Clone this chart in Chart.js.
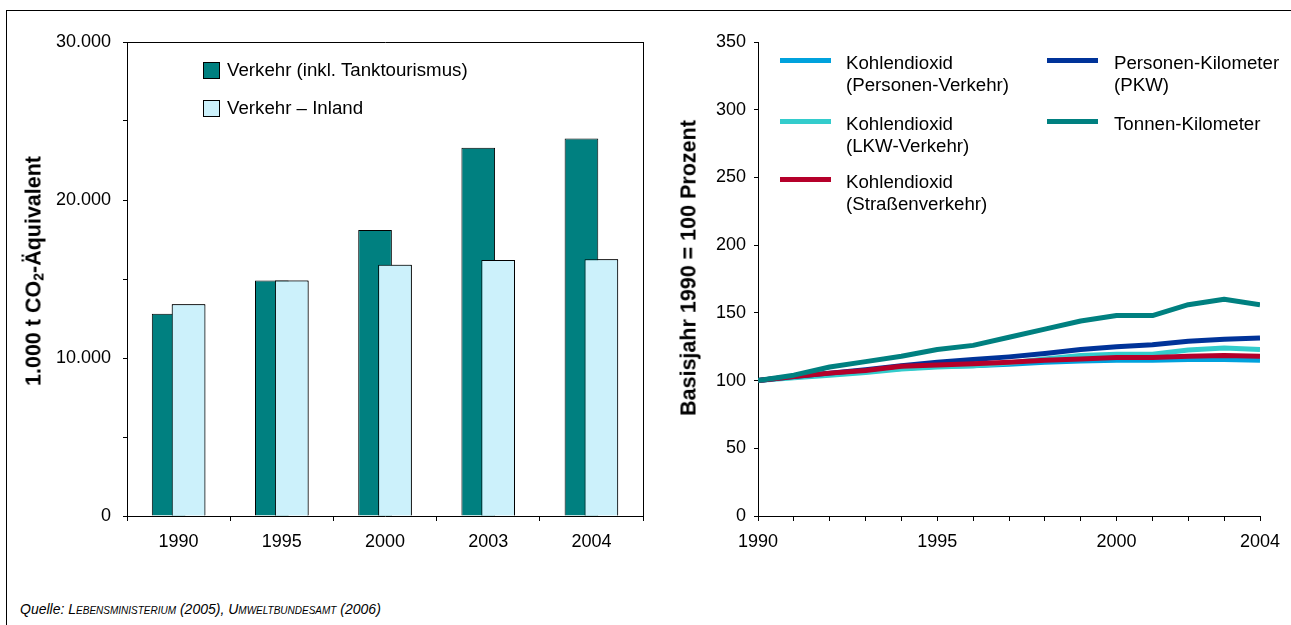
<!DOCTYPE html>
<html><head><meta charset="utf-8">
<script src="https://cdn.jsdelivr.net/npm/chart.js@4"></script>
<style>
html,body{margin:0;padding:0;background:#fff;}
body{width:1291px;height:625px;position:relative;overflow:hidden;font-family:"Liberation Sans",Arial,sans-serif;color:#000;}
#frame{position:absolute;left:6px;top:10px;width:1300px;height:700px;border-left:1px solid #000;border-top:1px solid #000;}
canvas{position:absolute;top:0;}
#c1{left:0;}
#c2{left:660px;}
.rt{position:absolute;white-space:nowrap;font-weight:bold;font-size:21.5px;transform:translate(-50%,-50%) rotate(-90deg);}
.rt sub{font-size:14px;vertical-align:-3px;line-height:0;}
.lsq{position:absolute;width:15px;height:15px;border:1px solid #000;}
.ltx{position:absolute;font-size:18.7px;line-height:22px;white-space:nowrap;}
.lln{position:absolute;width:51px;height:5px;}
#src{position:absolute;left:20px;top:601px;font-size:14px;font-style:italic;white-space:nowrap;}
.sc{font-variant:small-caps;}
</style></head>
<body>
<div id="frame"></div>
<canvas id="c1" width="660" height="580"></canvas>
<canvas id="c2" width="631" height="580"></canvas>
<div class="rt" style="left:34px;top:271px;">1.000 t CO<sub>2</sub>-Äquivalent</div>
<div class="rt" style="left:689px;top:268px;">Basisjahr 1990 = 100 Prozent</div>
<div id="legend1"></div>
<div id="legend2"></div>
<div id="src">Quelle: <span class="sc">Lebensministerium</span> (2005), <span class="sc">Umweltbundesamt</span> (2006)</div>
<script>
// ---- Data: bar chart ----
const barYears = ['1990', '1995', '2000', '2003', '2004'];
const verkehrTank = [12800, 14900, 18100, 23300, 23900];
const verkehrInland = [13400, 14900, 15900, 16200, 16250];
const barSeriesNames = ['Verkehr (inkl. Tanktourismus)', 'Verkehr – Inland'];
const barTickValues = [0, 10000, 20000, 30000];
const barTickLabels = ['0', '10.000', '20.000', '30.000'];

// ---- Data: line chart ----
const lineYears = [1990, 1991, 1992, 1993, 1994, 1995, 1996, 1997, 1998, 1999, 2000, 2001, 2002, 2003, 2004];
const co2Personen = [100, 103, 105, 107, 109, 110.5, 111, 112, 113.5, 114.5, 115, 115, 115.5, 115.5, 115];
const co2Lkw = [100, 102, 104, 106, 108.5, 110, 111, 113, 116, 118.5, 119.5, 119.5, 122.5, 124, 123];
const co2Strasse = [100, 103, 105.5, 107.5, 110.5, 111.5, 112.5, 113.5, 115, 116, 117, 117, 118, 118.5, 118];
const personenKm = [100, 103, 105.5, 108, 111, 113.5, 115.5, 117.5, 120, 123, 125, 126.5, 129, 130.5, 131.5];
const tonnenKm = [100, 104, 110, 114, 118, 123, 126, 132, 138, 144, 148, 148, 156, 160, 156];
const lineSeriesNames = [
  ['Kohlendioxid', '(Personen-Verkehr)'],
  ['Kohlendioxid', '(LKW-Verkehr)'],
  ['Kohlendioxid', '(Straßenverkehr)'],
  ['Personen-Kilometer', '(PKW)'],
  ['Tonnen-Kilometer']
];
const lineXLabelYears = [1990, 1995, 2000, 2004];

const DARK = '#008080', LIGHT = '#ccf1fb';
const lineColors = ['#00a2dd', '#33cccc', '#b5002a', '#003399', '#008080'];

Chart.defaults.font.family = '"Liberation Sans", Arial, sans-serif';
Chart.defaults.font.size = 18;
Chart.defaults.color = '#000';

// Light bars drawn on top of the overlapping dark bars
const overlapPlugin = {
  id: 'overlap',
  afterDatasetsDraw(chart) {
    const meta = chart.getDatasetMeta(1);
    if (meta && meta.controller) meta.controller.draw();
  }
};

new Chart(document.getElementById('c1'), {
  type: 'bar',
  data: {
    labels: barYears,
    datasets: [
      { label: barSeriesNames[0], data: verkehrTank, backgroundColor: DARK, borderColor: '#000', borderWidth: 1,
        categoryPercentage: 0.386, barPercentage: 1.69 },
      { label: barSeriesNames[1], data: verkehrInland, backgroundColor: LIGHT, borderColor: '#000', borderWidth: 1,
        categoryPercentage: 0.386, barPercentage: 1.69 }
    ]
  },
  options: {
    responsive: false, animation: false, devicePixelRatio: 1,
    layout: { padding: { left: 0, right: 17, top: 42, bottom: 24 } },
    plugins: { legend: { display: false }, tooltip: { enabled: false } },
    scales: {
      x: {
        type: 'category', offset: true,
        grid: { display: true, drawOnChartArea: false, drawTicks: true, tickLength: 5, color: '#000', offset: true },
        border: { display: true, color: '#000', width: 1 },
        ticks: { padding: 10, maxRotation: 0, minRotation: 0, font: { size: 18 } },
        afterFit: s => { s.height = 40; }
      },
      xTop: {
        type: 'category', position: 'top', offset: true,
        grid: { display: false, drawTicks: false }, ticks: { display: false },
        border: { display: true, color: '#000', width: 1 },
        afterFit: s => { s.height = 0; }
      },
      y: {
        min: 0, max: 30000,
        grid: { display: true, drawOnChartArea: false, drawTicks: true, tickLength: 4, color: '#000' },
        border: { display: true, color: '#000', width: 1 },
        ticks: {
          stepSize: 5000, padding: 12, autoSkip: false,
          callback: v => { const i = barTickValues.indexOf(v); return i >= 0 ? barTickLabels[i] : ''; }
        },
        afterFit: s => { s.width = 127; }
      },
      yRight: {
        type: 'linear', position: 'right', min: 0, max: 30000,
        grid: { display: false, drawTicks: false }, ticks: { display: false },
        border: { display: true, color: '#000', width: 1 },
        afterFit: s => { s.width = 0; }
      }
    }
  },
  plugins: [overlapPlugin]
});

const lineData = [co2Personen, co2Lkw, co2Strasse, personenKm, tonnenKm];
const drawOrder = [5, 4, 2, 3, 1];
new Chart(document.getElementById('c2'), {
  type: 'line',
  data: {
    datasets: lineData.map((arr, i) => ({
      label: lineSeriesNames[i].join(' '),
      data: arr.map((v, k) => ({ x: lineYears[k], y: v })),
      borderColor: lineColors[i], backgroundColor: lineColors[i],
      borderWidth: 5, pointRadius: 0, tension: 0, fill: false,
      borderJoinStyle: 'round', order: drawOrder[i]
    }))
  },
  options: {
    responsive: false, animation: false, devicePixelRatio: 1,
    layout: { padding: { left: 0, right: 31, top: 42, bottom: 24 } },
    plugins: { legend: { display: false }, tooltip: { enabled: false } },
    scales: {
      x: {
        type: 'linear', min: 1990, max: 2004,
        grid: { display: true, drawOnChartArea: false, drawTicks: true, tickLength: 5, color: '#000' },
        border: { display: true, color: '#000', width: 1 },
        ticks: {
          stepSize: 1, autoSkip: false, maxRotation: 0, minRotation: 0, padding: 10,
          callback: v => lineXLabelYears.includes(v) ? String(v) : ''
        },
        afterFit: s => { s.height = 40; }
      },
      y: {
        min: 0, max: 350,
        grid: { display: true, drawOnChartArea: false, drawTicks: true, tickLength: 4, color: '#000' },
        border: { display: true, color: '#000', width: 1 },
        ticks: { stepSize: 50, padding: 8 },
        afterFit: s => { s.width = 98; }
      }
    }
  }
});

// ---- HTML legends ----
const lg1 = document.getElementById('legend1');
[[DARK, 62], [LIGHT, 100]].forEach(([c, y], i) => {
  const sq = document.createElement('div');
  sq.className = 'lsq'; sq.style.left = '203px'; sq.style.top = y + 'px'; sq.style.background = c;
  lg1.appendChild(sq);
  const t = document.createElement('div');
  t.className = 'ltx'; t.style.left = '227px'; t.style.top = (y + 8 - 11) + 'px';
  t.textContent = barSeriesNames[i];
  lg1.appendChild(t);
});
const lg2 = document.getElementById('legend2');
const legPos = [[780, 846, 60], [780, 846, 121], [780, 846, 179], [1047, 1114, 60], [1047, 1114, 121]];
legPos.forEach(([lx, tx, y], i) => {
  const ln = document.createElement('div');
  ln.className = 'lln'; ln.style.left = lx + 'px'; ln.style.top = (y - 2.5) + 'px'; ln.style.background = lineColors[i];
  lg2.appendChild(ln);
  const t = document.createElement('div');
  t.className = 'ltx'; t.style.left = tx + 'px'; t.style.top = (y + 3 - 11) + 'px';
  t.innerHTML = lineSeriesNames[i].join('<br>');
  lg2.appendChild(t);
});
</script>
</body></html>
